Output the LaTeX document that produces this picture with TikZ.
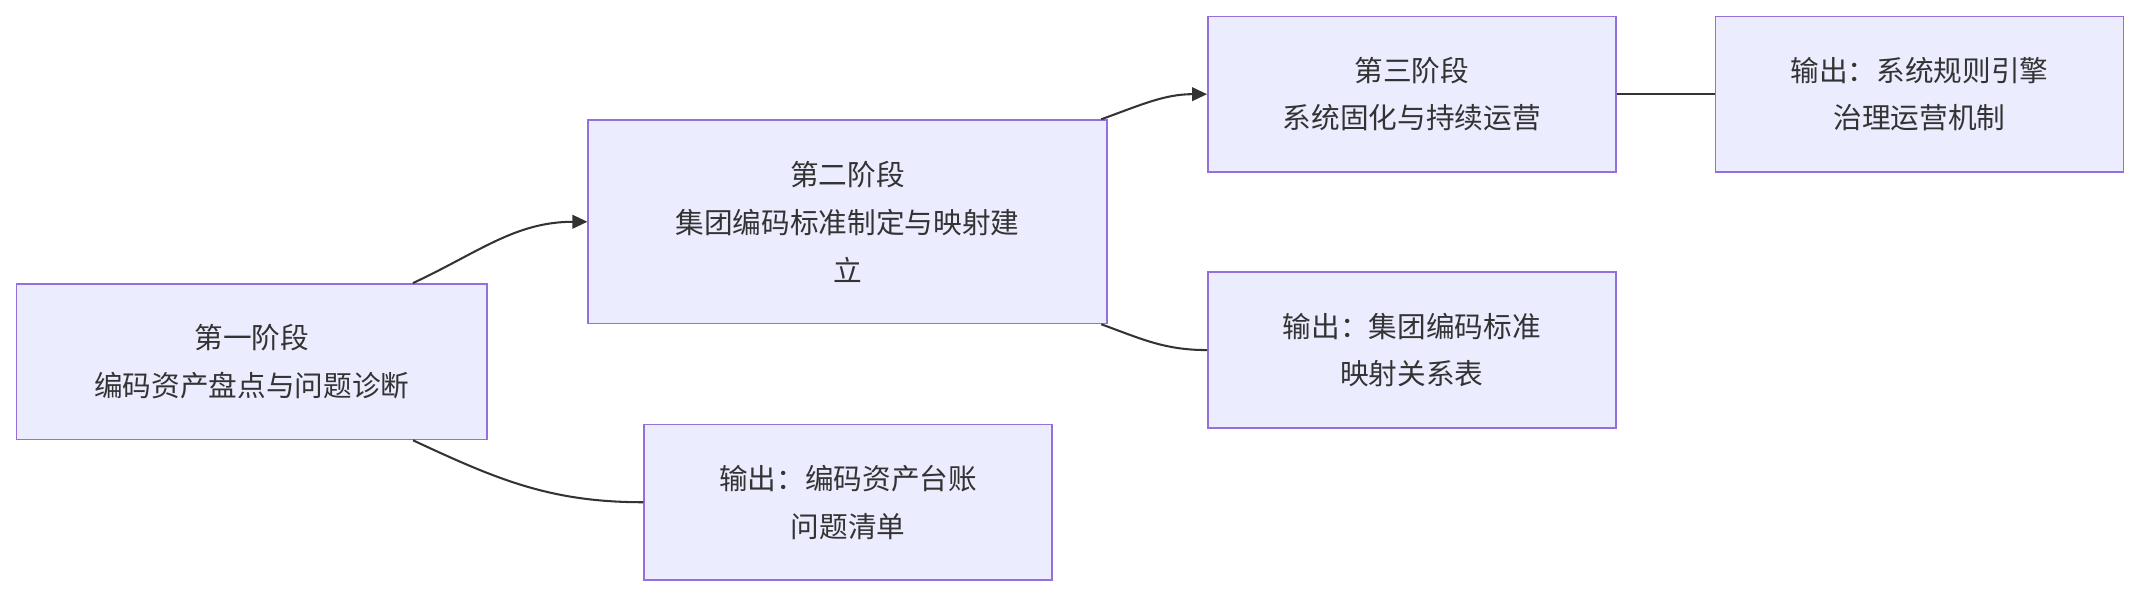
\documentclass[tikz,border=0pt]{standalone}
\usepackage{fontspec}
\setmainfont{Noto Sans CJK SC}
\definecolor{boxfill}{HTML}{ECECFF}
\definecolor{boxline}{HTML}{9370DB}
\definecolor{txt}{HTML}{333333}
\usetikzlibrary{arrows.meta}
\begin{document}
\begin{tikzpicture}[x=1pt, y=-1pt,
    stage/.style={draw=boxline, fill=boxfill, line width=1.2pt, align=center,
      text=txt, font=\fontsize{21}{35}\selectfont, inner sep=0pt},
    link/.style={draw=txt, line width=1.5pt},
    arr/.style={link, -{Triangle[length=11pt, width=10pt]}}]
  \useasboundingbox (0,0) rectangle (1568,436);
  \node[stage, minimum width=345pt, minimum height=114pt] (s1) at (184.5,265) {第一阶段\\编码资产盘点与问题诊断};
  \node[stage, minimum width=380pt, minimum height=149pt] (s2) at (621,162.5) {第二阶段\\集团编码标准制定与映射建\\立};
  \node[stage, minimum width=299pt, minimum height=114pt] (s3) at (1034.5,69) {第三阶段\\系统固化与持续运营};
  \node[stage, minimum width=299pt, minimum height=114pt] (o3) at (1406.5,69) {输出：系统规则引擎\\治理运营机制};
  \node[stage, minimum width=299pt, minimum height=114pt] (o2) at (1034.5,256.5) {输出：集团编码标准\\映射关系表};
  \node[stage, minimum width=299pt, minimum height=114pt] (o1) at (621.5,368) {输出：编码资产台账\\问题清单};
  % stages and outputs
  \draw[arr] (s1.26) to[out=25, in=180] (s2.west);
  \draw[link] (s1.-26) to[out=-25, in=180] (o1.west);
  \draw[arr] (s2.22.3) to[out=20, in=180] (s3.west);
  \draw[link] (s2.-22.3) to[out=-20, in=180] (o2.west);
  \draw[link] (s3.east) -- (o3.west);
\end{tikzpicture}
\end{document}
